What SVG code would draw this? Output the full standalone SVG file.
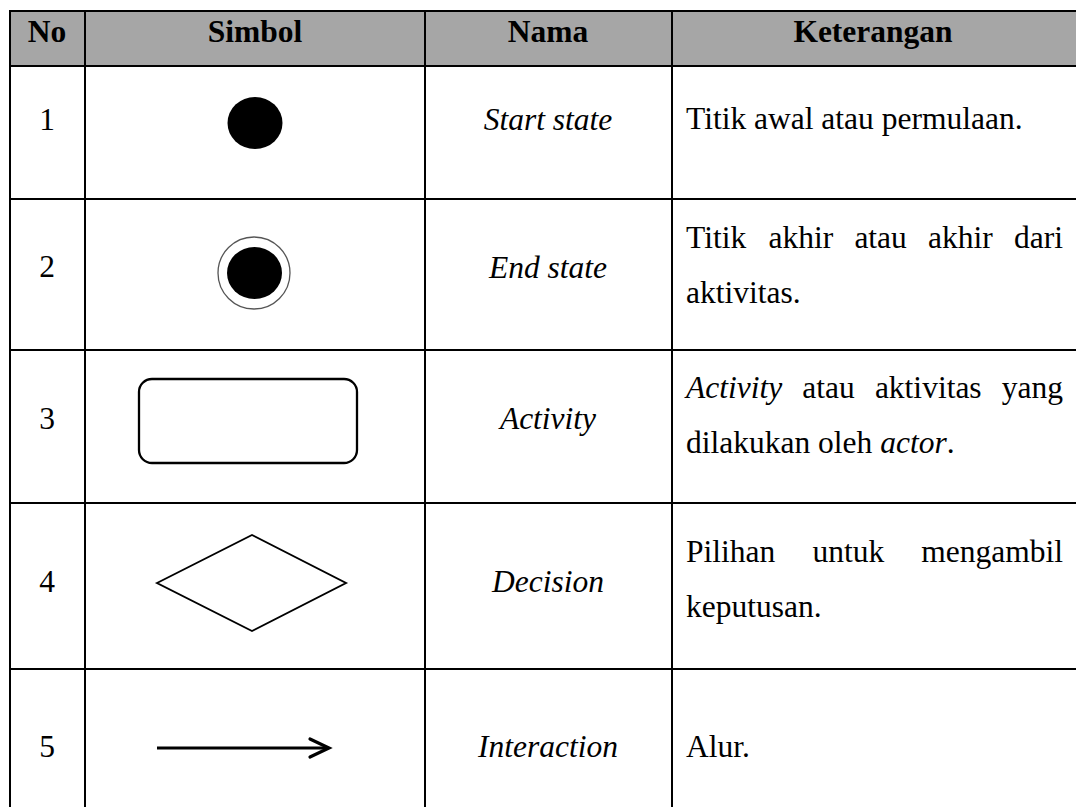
<svg xmlns="http://www.w3.org/2000/svg" width="1076" height="807" viewBox="0 0 1076 807">
<style>
.grid{stroke:#000;stroke-width:2;fill:none}
.t{font-family:"Liberation Serif","Times New Roman",serif;font-size:31.5px;fill:#000}
.h{font-weight:bold;text-anchor:middle}
.c{text-anchor:middle}
.i{font-style:italic}
.sym{fill:none;stroke:#000}
</style>
<rect width="1076" height="807" fill="#fff"/>
<g id="header">
<rect x="10" y="11" width="1070" height="55" fill="#a6a6a6"/>
<text class="t h" x="47" y="42">No</text>
<text class="t h" x="255" y="42">Simbol</text>
<text class="t h" x="548" y="42">Nama</text>
<text class="t h" x="873" y="42">Keterangan</text>
</g>
<g id="grid-lines" class="grid">
<line x1="9" y1="11" x2="1076" y2="11"/>
<line x1="9" y1="66" x2="1076" y2="66"/>
<line x1="9" y1="199" x2="1076" y2="199"/>
<line x1="9" y1="350" x2="1076" y2="350"/>
<line x1="9" y1="503" x2="1076" y2="503"/>
<line x1="9" y1="669" x2="1076" y2="669"/>
<line x1="10" y1="10" x2="10" y2="807"/>
<line x1="85" y1="10" x2="85" y2="807"/>
<line x1="425" y1="10" x2="425" y2="807"/>
<line x1="672" y1="10" x2="672" y2="807"/>
</g>
<g id="row1">
<text class="t c" x="47" y="130">1</text>
<ellipse cx="255" cy="123" rx="27.5" ry="26" fill="#000"/>
<text class="t c i" x="548" y="130">Start state</text>
<text class="t" x="686" y="129">Titik awal atau permulaan.</text>
</g>
<g id="row2">
<text class="t c" x="47" y="277">2</text>
<circle cx="254" cy="273" r="36" fill="#fff" stroke="#555" stroke-width="1.3"/>
<ellipse cx="254.5" cy="273" rx="27.5" ry="26" fill="#000"/>
<text class="t c i" x="548" y="278">End state</text>
<text class="t" y="248"><tspan x="686">Titik</tspan><tspan x="768.5">akhir</tspan><tspan x="854.4">atau</tspan><tspan x="928.1">akhir</tspan><tspan x="1014">dari</tspan></text>
<text class="t" x="686" y="303">aktivitas.</text>
</g>
<g id="row3">
<text class="t c" x="47" y="429">3</text>
<rect class="sym" style="stroke-width:2.3" x="139" y="379" width="218" height="84" rx="13" ry="13"/>
<text class="t c i" x="548" y="429">Activity</text>
<text class="t" y="398"><tspan x="686" font-style="italic">Activity</tspan><tspan x="802.3">atau</tspan><tspan x="874.9">aktivitas</tspan><tspan x="1001.8">yang</tspan></text>
<text class="t" x="686" y="453">dilakukan oleh <tspan font-style="italic">actor</tspan>.</text>
</g>
<g id="row4">
<text class="t c" x="47" y="592">4</text>
<polygon class="sym" style="stroke-width:1.9" points="157,583 252,535 346,583 252,631"/>
<text class="t c i" x="548" y="592">Decision</text>
<text class="t" y="562"><tspan x="686">Pilihan</tspan><tspan x="812.4">untuk</tspan><tspan x="921.2">mengambil</tspan></text>
<text class="t" x="686" y="617">keputusan.</text>
</g>
<g id="row5">
<text class="t c" x="47" y="757">5</text>
<g class="sym" style="stroke-width:3.2">
<line x1="157" y1="748" x2="327" y2="748"/>
<polyline points="310,739 329,748 310,757" stroke-linejoin="miter" stroke-linecap="round"/>
</g>
<text class="t c i" x="548" y="757">Interaction</text>
<text class="t" x="686" y="757">Alur.</text>
</g>
</svg>
